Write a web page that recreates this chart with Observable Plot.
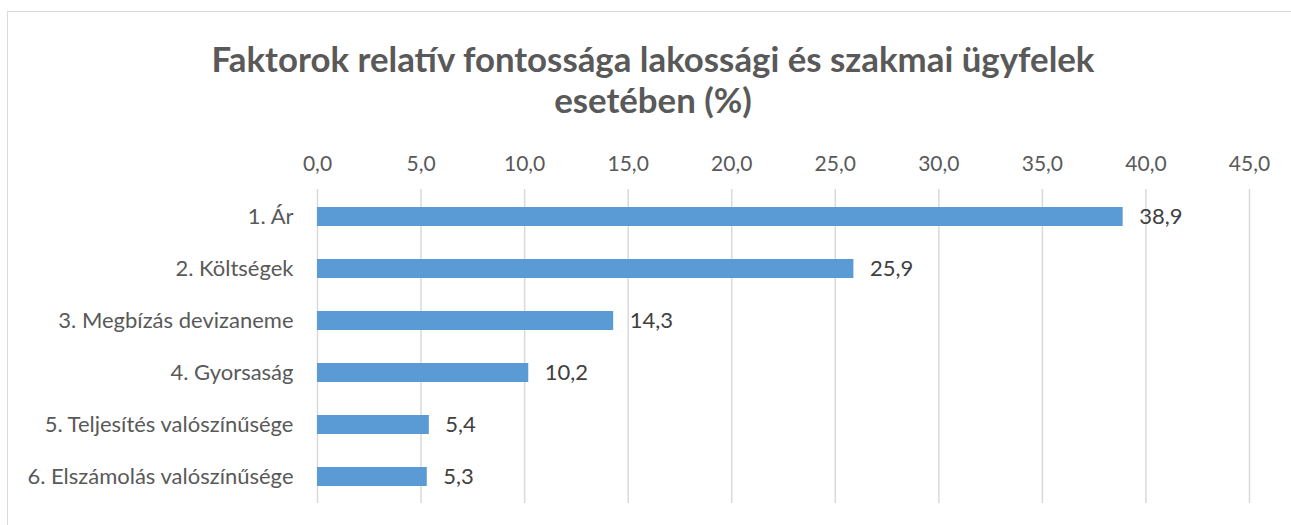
<!DOCTYPE html>
<html>
<head>
<meta charset="utf-8">
<script src="https://cdn.jsdelivr.net/npm/d3@7"></script>
<script src="https://cdn.jsdelivr.net/npm/@observablehq/plot@0.6"></script>
<style>
  html, body { margin: 0; padding: 0; background: #fff; }
  #wrap { position: relative; width: 1291px; height: 525px; overflow: hidden; font-family: Lato, "Open Sans", sans-serif; }
  #frame { position: absolute; left: 7px; top: 11px; width: 1300px; height: 530px; border: 1.5px solid #d9d9d9; box-sizing: border-box; }
  #title { position: absolute; left: 0; top: 38px; width: 1306px; text-align: center; font-weight: bold; font-size: 34.8px; line-height: 41px; color: #595959; }
  #chart { position: absolute; left: 0; top: 0; }
</style>
</head>
<body>
<div id="wrap">
  <div id="frame"></div>
  <div id="title">Faktorok relatív fontossága lakossági és szakmai ügyfelek<br>esetében (%)</div>
  <div id="chart"></div>
</div>
<script>
const categories = ["1. Ár", "2. Költségek", "3. Megbízás devizaneme", "4. Gyorsaság", "5. Teljesítés valószínűsége", "6. Elszámolás valószínűsége"];
const values = [38.9, 25.9, 14.3, 10.2, 5.4, 5.3];
const xTicks = [0, 5, 10, 15, 20, 25, 30, 35, 40, 45];

const data = categories.map((c, i) => ({category: c, value: values[i]}));
const fmt = v => v.toFixed(1).replace(".", ",");

const plot = Plot.plot({
  width: 1291,
  height: 525,
  marginLeft: 317,
  marginRight: 42,
  marginTop: 189,
  marginBottom: 22,
  style: {fontFamily: "Lato, 'Open Sans', sans-serif", color: "#595959", background: "transparent", overflow: "visible"},
  x: {domain: [0, 45], ticks: xTicks, label: null},
  y: {domain: categories, paddingInner: 0.64, paddingOuter: 0.32, label: null},
  marks: [
    Plot.gridX(xTicks, {stroke: "#d9d9d9", strokeOpacity: 1, strokeWidth: 1.5}),
    Plot.axisX(xTicks, {anchor: "top", tickSize: 0, tickPadding: 19, tickFormat: fmt, fontSize: 21, fill: "#595959", label: null}),
    Plot.axisY({tickSize: 0, tickPadding: 24, fontSize: 22, fill: "#595959", label: null}),
    Plot.barX(data, {x: "value", y: "category", fill: "#5b9bd5"}),
    Plot.text(data, {x: "value", y: "category", text: d => fmt(d.value), dx: 16, textAnchor: "start", fontSize: 22, fill: "#404040"})
  ]
});
document.getElementById("chart").appendChild(plot);
</script>
</body>
</html>
